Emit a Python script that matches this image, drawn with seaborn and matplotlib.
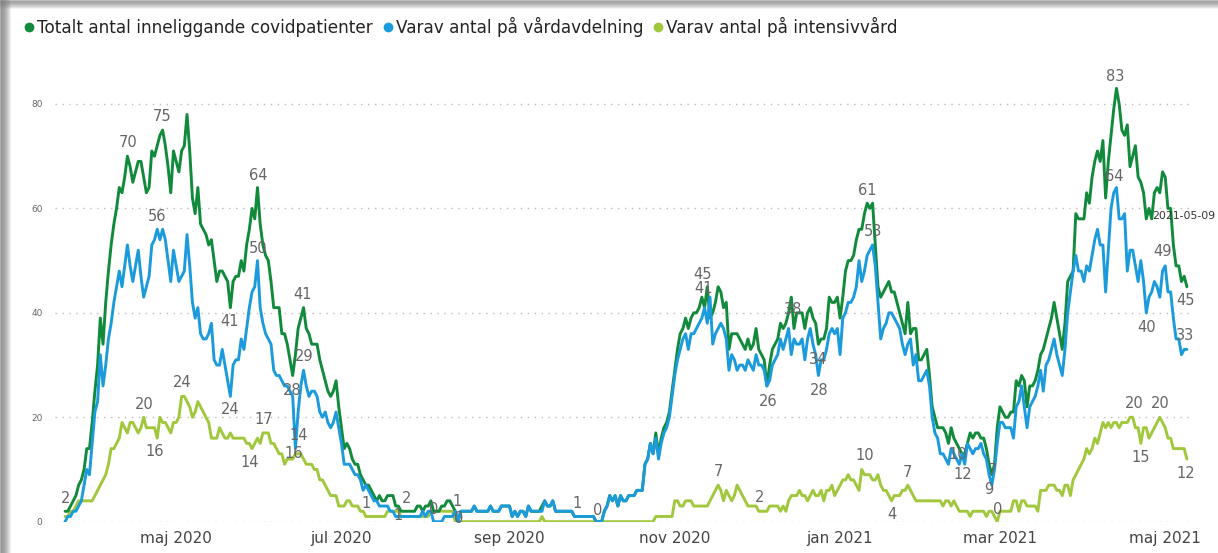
import pandas as pd
import numpy as np
import seaborn as sns
import matplotlib.pyplot as plt
from matplotlib.lines import Line2D
from matplotlib.patches import Rectangle

# daily values, 2020-03-21 .. 2021-05-09
start_date = "2020-03-21"

totalt = [
    2, 2, 3, 4, 5, 7, 8, 10, 14, 14,
    19, 25, 30, 39, 34, 42, 48, 53, 57, 60,
    64, 63, 66, 70, 68, 65, 67, 69, 69, 66,
    63, 64, 71, 70, 72, 74, 75, 72, 68, 63,
    71, 69, 67, 71, 72, 78, 71, 62, 59, 64,
    57, 56, 55, 53, 54, 50, 46, 48, 48, 47,
    46, 41, 46, 47, 47, 50, 48, 53, 56, 60,
    58, 64, 57, 53, 51, 50, 46, 41, 41, 41,
    36, 36, 34, 31, 28, 32, 37, 39, 41, 37,
    36, 34, 34, 34, 31, 29, 27, 25, 24, 25,
    27, 22, 18, 14, 15, 14, 12, 11, 11, 9,
    8, 7, 7, 6, 5, 4, 5, 4, 4, 5,
    5, 5, 3, 3, 2, 2, 2, 2, 2, 2,
    3, 3, 2, 3, 3, 4, 2, 2, 2, 3,
    3, 4, 4, 3, 2, 0, 2, 2, 2, 2,
    2, 3, 2, 2, 2, 2, 2, 3, 2, 2,
    2, 3, 3, 3, 3, 1, 2, 1, 2, 2,
    1, 3, 2, 2, 2, 2, 3, 4, 3, 3,
    4, 2, 2, 2, 2, 2, 2, 2, 1, 1,
    1, 1, 1, 1, 1, 1, 0, 0, 0, 2,
    3, 5, 4, 5, 3, 5, 4, 4, 5, 5,
    5, 6, 6, 6, 11, 12, 15, 13, 17, 13,
    16, 18, 19, 21, 25, 29, 33, 36, 37, 39,
    37, 39, 40, 40, 41, 43, 41, 45, 39, 40,
    42, 45, 44, 41, 42, 33, 36, 36, 36, 35,
    34, 33, 35, 33, 34, 37, 33, 32, 31, 26,
    30, 33, 34, 35, 38, 37, 38, 40, 43, 37,
    40, 40, 40, 37, 40, 41, 39, 38, 34, 35,
    35, 37, 43, 42, 42, 43, 39, 43, 48, 50,
    50, 51, 54, 56, 56, 59, 61, 60, 61, 53,
    45, 43, 44, 45, 46, 44, 44, 42, 40, 38,
    36, 42, 36, 37, 37, 31, 31, 32, 33, 28,
    22, 20, 18, 18, 18, 17, 15, 18, 16, 15,
    14, 13, 13, 15, 17, 16, 17, 17, 16, 16,
    14, 11, 9, 11, 18, 22, 21, 20, 20, 21,
    21, 27, 26, 28, 27, 22, 26, 26, 27, 29,
    32, 33, 35, 37, 39, 42, 39, 36, 33, 38,
    46, 47, 48, 59, 58, 58, 58, 63, 61, 66,
    69, 71, 69, 73, 62, 69, 74, 79, 83, 80,
    75, 74, 76, 68, 70, 72, 66, 65, 63, 58,
    60, 58, 63, 64, 63, 67, 66, 60, 60, 53,
    49, 49, 46, 47, 45,
]

vardavdelning = [
    0, 1, 1, 2, 2, 3, 4, 7, 10, 9,
    15, 21, 23, 32, 26, 30, 35, 38, 42, 45,
    48, 45, 49, 53, 49, 46, 49, 52, 47, 43,
    45, 47, 53, 54, 56, 54, 56, 54, 50, 46,
    52, 49, 46, 47, 48, 55, 49, 42, 39, 41,
    36, 35, 35, 36, 38, 31, 30, 30, 33, 30,
    27, 24, 30, 31, 31, 35, 33, 37, 41, 44,
    45, 50, 41, 38, 36, 35, 34, 29, 28, 28,
    27, 26, 26, 25, 24, 14, 21, 26, 29, 26,
    24, 25, 25, 24, 21, 20, 21, 19, 18, 19,
    21, 18, 15, 11, 11, 11, 10, 9, 9, 8,
    6, 7, 6, 5, 4, 4, 3, 3, 3, 3,
    2, 2, 1, 1, 1, 1, 1, 1, 1, 1,
    1, 1, 2, 1, 2, 2, 0, 0, 0, 0,
    1, 1, 1, 1, 2, 0, 2, 2, 2, 2,
    2, 3, 2, 2, 2, 2, 2, 3, 2, 2,
    2, 3, 3, 3, 3, 1, 2, 1, 2, 2,
    1, 3, 2, 2, 2, 2, 2, 4, 3, 3,
    4, 2, 2, 2, 2, 2, 2, 2, 1, 1,
    1, 1, 1, 1, 1, 1, 0, 0, 0, 2,
    3, 5, 4, 5, 3, 5, 4, 4, 5, 5,
    5, 6, 6, 6, 11, 12, 15, 13, 16, 12,
    15, 17, 18, 20, 24, 28, 31, 33, 35, 36,
    33, 36, 36, 37, 38, 39, 41, 38, 43, 34,
    36, 37, 38, 37, 35, 29, 32, 31, 29, 30,
    30, 29, 31, 30, 29, 32, 30, 30, 29, 26,
    27, 30, 31, 32, 35, 33, 35, 37, 32, 35,
    34, 34, 35, 31, 35, 37, 34, 32, 28, 31,
    31, 33, 36, 37, 36, 37, 32, 39, 40, 42,
    42, 43, 45, 50, 46, 48, 51, 52, 53, 49,
    42, 35, 37, 38, 40, 40, 39, 38, 37, 34,
    32, 34, 35, 30, 32, 27, 27, 28, 29, 26,
    20, 17, 16, 13, 13, 12, 11, 14, 13, 12,
    11, 13, 11, 15, 14, 13, 14, 14, 15, 13,
    12, 9, 7, 10, 15, 19, 19, 18, 18, 18,
    16, 22, 23, 26, 22, 18, 22, 23, 24, 26,
    29, 25, 30, 31, 33, 35, 32, 30, 28, 33,
    40, 44, 48, 51, 48, 48, 46, 49, 48, 51,
    54, 56, 53, 53, 44, 52, 60, 63, 64, 58,
    58, 59, 48, 52, 52, 49, 46, 50, 46, 40,
    43, 44, 46, 45, 43, 48, 49, 44, 44, 39,
    35, 35, 32, 33, 33,
]

intensivvard = [
    1, 1, 2, 2, 3, 4, 4, 4, 4, 4,
    4, 5, 6, 7, 8, 9, 11, 14, 14, 15,
    16, 19, 18, 17, 19, 19, 18, 17, 18, 20,
    18, 18, 18, 18, 16, 20, 19, 19, 18, 17,
    19, 19, 20, 24, 24, 23, 22, 20, 21, 23,
    22, 21, 20, 19, 16, 16, 16, 18, 17, 16,
    16, 17, 16, 16, 16, 16, 16, 15, 15, 14,
    15, 16, 15, 17, 17, 17, 15, 15, 14, 13,
    13, 11, 12, 12, 12, 13, 13, 13, 12, 11,
    11, 11, 10, 10, 8, 8, 7, 6, 5, 5,
    5, 3, 3, 3, 4, 4, 3, 3, 3, 2,
    2, 1, 1, 1, 1, 1, 1, 1, 1, 2,
    2, 2, 2, 2, 1, 1, 1, 1, 1, 1,
    1, 1, 1, 1, 1, 2, 2, 2, 2, 2,
    2, 2, 2, 2, 0, 0, 0, 0, 0, 0,
    0, 0, 0, 0, 0, 0, 0, 0, 0, 0,
    0, 0, 0, 0, 0, 0, 0, 0, 0, 0,
    0, 0, 0, 0, 0, 0, 1, 0, 0, 0,
    0, 0, 0, 0, 0, 0, 0, 0, 0, 0,
    0, 0, 0, 0, 0, 0, 0, 0, 0, 0,
    0, 0, 0, 0, 0, 0, 0, 0, 0, 0,
    0, 0, 0, 0, 0, 0, 0, 0, 1, 1,
    1, 1, 1, 1, 1, 4, 4, 3, 3, 4,
    4, 4, 3, 3, 3, 3, 3, 3, 4, 5,
    6, 7, 6, 4, 6, 5, 4, 5, 7, 6,
    5, 4, 3, 3, 3, 3, 2, 2, 2, 2,
    3, 3, 3, 3, 2, 3, 2, 4, 5, 5,
    5, 6, 5, 5, 4, 5, 6, 5, 5, 6,
    4, 6, 6, 7, 5, 6, 7, 8, 8, 9,
    8, 8, 7, 6, 10, 9, 9, 9, 8, 8,
    9, 7, 6, 6, 5, 4, 5, 5, 5, 6,
    6, 7, 6, 5, 4, 4, 4, 4, 4, 4,
    4, 4, 4, 4, 3, 4, 4, 3, 4, 3,
    2, 2, 2, 2, 1, 2, 2, 2, 2, 2,
    1, 2, 2, 1, 0, 2, 2, 2, 2, 2,
    4, 4, 2, 4, 4, 3, 3, 3, 3, 2,
    6, 6, 6, 7, 7, 7, 6, 6, 5, 7,
    7, 5, 8, 9, 10, 11, 12, 14, 13, 14,
    16, 15, 17, 19, 18, 19, 18, 19, 19, 18,
    19, 19, 19, 20, 20, 18, 18, 15, 18, 18,
    16, 17, 18, 19, 20, 19, 18, 16, 16, 14,
    14, 14, 14, 14, 12,
]

series_names = ["Totalt antal inneliggande covidpatienter",
                "Varav antal på vårdavdelning",
                "Varav antal på intensivvård"]
series_colors = ["#118a3c", "#1c9bdc", "#a1c83d"]
draw_order = [series_names[2], series_names[0], series_names[1]]

tick_dates = ["2020-05-01", "2020-07-01", "2020-09-01", "2020-11-01",
              "2021-01-01", "2021-03-01", "2021-05-01"]
tick_labels = ["maj 2020", "jul 2020", "sep 2020", "nov 2020",
               "jan 2021", "mar 2021", "maj 2021"]

# data labels: (text, day offset, y)
labels = [
    ("2", 0, 4.5), ("70", 23.3, 72.7), ("75", 35.8, 77.7), ("56", 34, 58.4),
    ("20", 29.2, 22.5), ("16", 33.2, 13.4), ("24", 43.2, 26.6), ("41", 60.6, 38.4),
    ("24", 61, 21.4), ("14", 68.3, 11.4), ("64", 71.3, 66.4), ("50", 71.3, 52.4),
    ("17", 73.5, 19.5), ("41", 87.6, 43.6), ("29", 88.3, 31.6), ("28", 83.9, 25.2),
    ("14", 86.1, 16.6), ("16", 84.2, 13.1), ("1", 111.2, 3.4), ("2", 126, 4.5),
    ("1", 123, 1.1), ("0", 135.9, 2.4), ("1", 144.8, 3.8), ("0", 145.2, 0.7),
    ("1", 189.1, 3.4), ("0", 196.5, 2.2), ("45", 235.3, 47.4), ("41", 235.7, 44.6),
    ("7", 241.2, 9.7), ("2", 256.4, 4.7), ("26", 259.3, 23.1), ("38", 268.6, 40.6),
    ("34", 277.8, 31), ("28", 278.2, 25.2), ("61", 295.9, 63.5), ("53", 298.1, 55.5),
    ("10", 295.2, 12.6), ("7", 311, 9.5), ("4", 305.1, 1.3), ("10", 329.5, 12.8),
    ("12", 331.4, 9.1), ("7", 342.1, 9.9), ("9", 341, 6.1), ("0", 344.3, 2.4),
    ("83", 387.5, 85.2), ("64", 387.1, 66.2), ("49", 405.2, 51.7), ("45", 413.4, 42.3),
    ("40", 399, 37.1), ("33", 413.4, 35.6), ("20", 394.5, 22.7), ("20", 404.1, 22.7),
    ("15", 397.1, 12.2), ("12", 413.7, 9.3),
]
tooltip_text = ("2021-05-09", 401.2, 58.5)

dates = pd.date_range(start_date, periods=len(totalt), freq="D")
df = pd.DataFrame({
    "datum": np.tile(dates, 3),
    "antal": totalt + vardavdelning + intensivvard,
    "serie": np.repeat(series_names, len(dates)),
})

sns.set_theme(style="white")
plt.rcParams["font.family"] = ["DejaVu Sans"]

fig = plt.figure(figsize=(12.18, 5.53), dpi=100)
ax = fig.add_axes([0.0452, 0.0566, 0.9335, 0.812])

sns.lineplot(data=df, x="datum", y="antal", hue="serie",
             hue_order=draw_order, palette=dict(zip(series_names, series_colors)),
             linewidth=2.1, legend=False, ax=ax)

ax.set_xlim(dates[0] - pd.Timedelta(days=3.7), dates[-1] + pd.Timedelta(days=1.9))
ax.set_ylim(0, 86)
ax.set_yticks([0, 20, 40, 60, 80])
ax.set_yticklabels(["0", "20", "40", "60", "80"], fontsize=6.5, color="#666666")
ax.set_xticks(pd.to_datetime(tick_dates))
ax.set_xticklabels(tick_labels, fontsize=11, color="#444444")
ax.tick_params(axis="x", length=0, pad=7)
ax.tick_params(axis="y", length=0, pad=9)
ax.set_xlabel("")
ax.set_ylabel("")
for s in ax.spines.values():
    s.set_visible(False)
ax.grid(False)
ax.yaxis.grid(True, linestyle=(0, (1, 4)), color="#bbbbbb", linewidth=1)
ax.set_axisbelow(True)

for txt, off, yv in labels:
    ax.text(dates[0] + pd.Timedelta(days=off), yv, txt, ha="center", va="center",
            fontsize=10.5, color="#666666", clip_on=False)
ax.text(dates[0] + pd.Timedelta(days=tooltip_text[1]), tooltip_text[2], tooltip_text[0],
        ha="left", va="center", fontsize=7.8, color="#333333", clip_on=False)

handles = [Line2D([], [], marker="o", linestyle="", markersize=6,
                  color=c) for c in series_colors]
fig.legend(handles, series_names, loc="upper left", bbox_to_anchor=(0.006, 0.997),
           ncol=3, frameon=False, fontsize=12.2, handletextpad=0.05,
           columnspacing=0.5, handlelength=0.8, labelcolor="#252423")

# card shadow on the left and top edge
for k in range(10):
    a = 0.45 * (1 - k / 10)
    fig.patches.append(Rectangle((k / 1218, 0), 1 / 1218, 1, transform=fig.transFigure,
                                 color="#808080", alpha=a, zorder=0))
for k in range(8):
    a = 0.35 * (1 - k / 8)
    fig.patches.append(Rectangle((0, 1 - (k + 1) / 553), 1, 1 / 553, transform=fig.transFigure,
                                 color="#808080", alpha=a, zorder=0))

fig.savefig("out.png", dpi=100)
